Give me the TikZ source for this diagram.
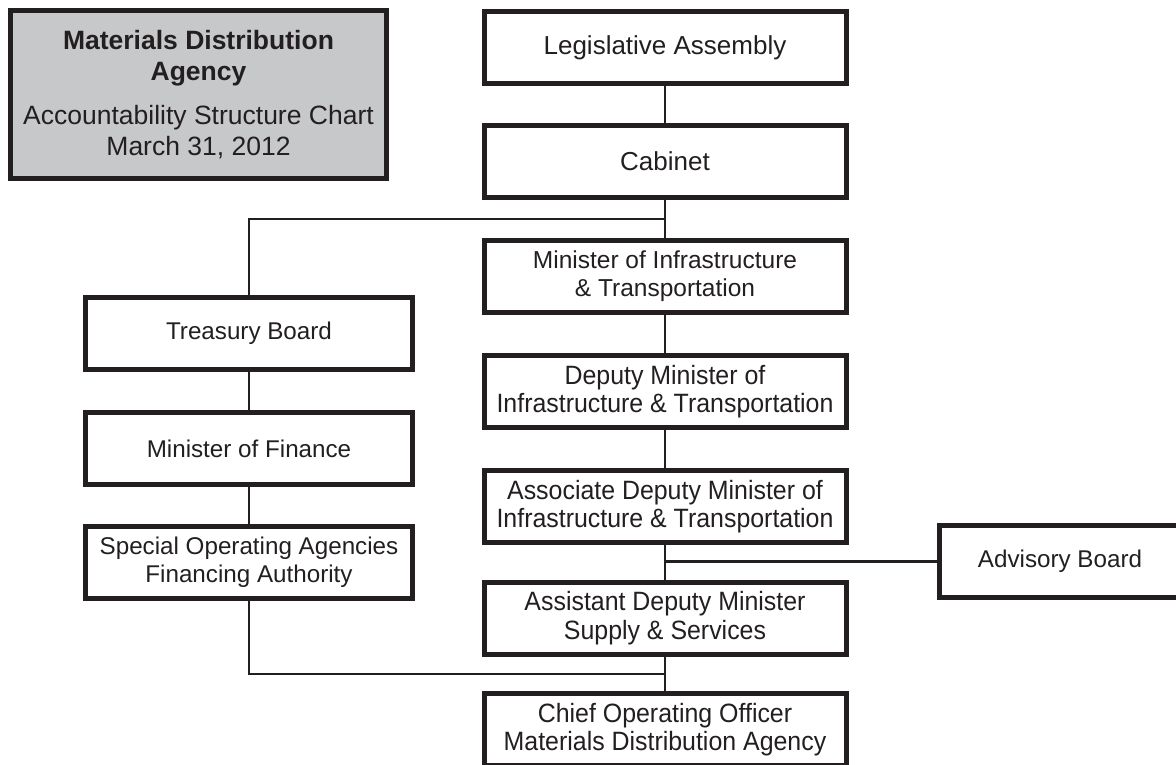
\documentclass[tikz,border=0pt]{standalone}
\usepackage{fontspec}
\setmainfont{Liberation Sans}
\newfontfamily\narrowfont[FakeStretch=0.94]{Liberation Sans}
\usetikzlibrary{positioning}
\definecolor{ink}{HTML}{231F20}
\definecolor{panel}{HTML}{C7C8CA}

\begin{document}
\begin{tikzpicture}[x=1pt,y=-1pt,
    box/.style={draw=ink,line width=5pt,fill=white,text=ink,minimum width=362pt,minimum height=72pt,inner sep=0pt,align=center,font=\fontsize{24.5}{28}\selectfont},
    bigbox/.style={box,font=\fontsize{26}{28}\selectfont},
    narrowbox/.style={box,font=\narrowfont\fontsize{26.5}{28.5}\selectfont},
    sidebox/.style={box,minimum width=327pt,font=\fontsize{24.2}{28}\selectfont},
    link/.style={draw=ink,line width=2.5pt}]
      \useasboundingbox (0,0) rectangle (1176,764);

      \node[box,fill=panel,minimum width=376pt,minimum height=168pt,font=\fontsize{26.5}{31}\selectfont] (title) at (198.5,94.5)
        {\textbf{Materials Distribution}\\\textbf{Agency}\\[13pt]Accountability Structure Chart\\March 31, 2012};

      \node[bigbox] (legis) at (665,47.5) {Legislative Assembly};
      \node[bigbox] (cabinet) at (665,161.5) {Cabinet};
      \node[box] (mininfra) at (665,276.5) {Minister of Infrastructure\\\& Transportation};
      \node[narrowbox] (deputy) at (665,391.5) {Deputy Minister of\\Infrastructure \& Transportation};
      \node[narrowbox] (assoc) at (665,506.5) {Associate Deputy Minister of\\Infrastructure \& Transportation};
      \node[narrowbox] (assist) at (665,618) {Assistant Deputy Minister\\Supply \& Services};
      \node[narrowbox] (chief) at (665,729.5) {Chief Operating Officer\\Materials Distribution Agency};

      \node[sidebox] (treasury) at (249,333.5) {Treasury Board};
      \node[sidebox] (finance) at (249,448.5) {Minister of Finance};
      \node[sidebox] (soa) at (249,562) {Special Operating Agencies\\Financing Authority};

      \node[sidebox,minimum width=241pt] (advisory) at (1060,561.5) {Advisory Board};

      \coordinate (split1) at (665,219);
      \coordinate (split2) at (665,561.5);
      \coordinate (merge) at (665,674);

      \foreach \from/\to in {legis/cabinet,cabinet/mininfra,mininfra/deputy,deputy/assoc,assoc/assist,assist/chief,treasury/finance,finance/soa}
      \draw[link] (\from.south)--(\to.north);

      \draw[link] (treasury.north) |- (split1);
      \draw[link] (split2) -- (advisory.west);
      \draw[link] (soa.south) |- (merge);
  \end{tikzpicture}
\end{document}
